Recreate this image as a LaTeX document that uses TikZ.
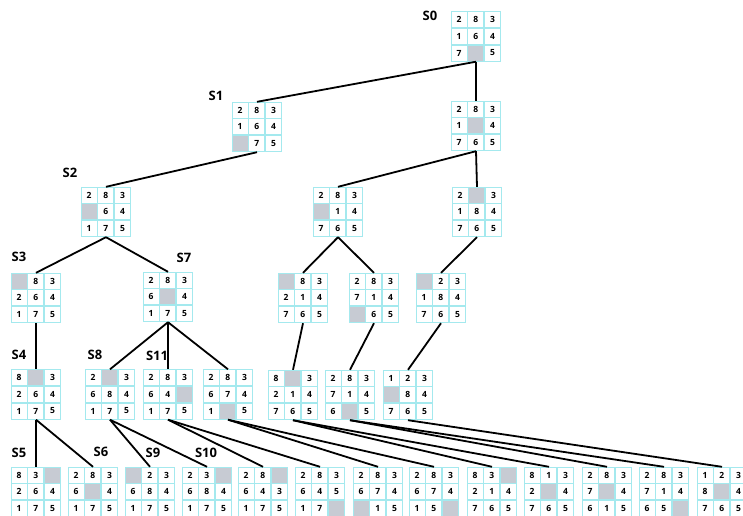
\documentclass[tikz,border=0pt]{standalone}
\usepackage{fontspec}
\setmainfont{Open Sans}
\usepackage{xcolor}
\definecolor{gridcyan}{HTML}{A4E9EE}
\definecolor{holegray}{HTML}{C7CBD3}
\usetikzlibrary{calc}

% one board of the 8-puzzle: name, centre, nine tiles (0 = blank)
\newcommand{\puzzle}[3]{%
  \node[board] (#1) at (#2) {};
  \foreach \tile [count=\idx from 0] in {#3} {
    \pgfmathtruncatemacro{\rowi}{(\idx+0.5)/3}
    \pgfmathtruncatemacro{\coli}{\idx-3*\rowi}
    \ifnum\tile=0 
      \node[cell, fill=holegray] at ($(#1.north west)+(\coli*16.667+8.333,\rowi*16.667+8.333)$) {};
    \else
      \node[cell] at ($(#1.north west)+(\coli*16.667+8.333,\rowi*16.667+8.333)$) {\tile};
    \fi
  }
}

\begin{document}
\begin{tikzpicture}[
            x=1pt, y=-1pt,
            board/.style={rectangle, minimum width=50pt, minimum height=50pt, inner sep=0pt},
            cell/.style={rectangle, draw=gridcyan, fill=white, line width=0.8pt, minimum size=15.9pt, inner sep=0pt, font=\bfseries\fontsize{8.5}{9}\selectfont},
            tag/.style={font=\bfseries\fontsize{13}{13}\selectfont, inner sep=0pt},
            link/.style={line width=1.8pt, black}
        ]
        \useasboundingbox (0,0) rectangle (743,515);

        % --- LEVEL 0 ---
        \puzzle{s0}{476,36.5}{2,8,3,1,6,4,7,0,5}

        % --- LEVEL 1 ---
        \puzzle{s1}{257,127}{2,8,3,1,6,4,0,7,5}
        \puzzle{n1}{476,126}{2,8,3,1,0,4,7,6,5}

        % --- LEVEL 2 ---
        \puzzle{s2}{106,212}{2,8,3,0,6,4,1,7,5}
        \puzzle{n2a}{338,212}{2,8,3,0,1,4,7,6,5}
        \puzzle{n2b}{477,212}{2,0,3,1,8,4,7,6,5}

        % --- LEVEL 3 ---
        \puzzle{s3}{36,298}{0,8,3,2,6,4,1,7,5}
        \puzzle{s7}{168,297}{2,8,3,6,0,4,1,7,5}
        \puzzle{n3a}{303,298}{0,8,3,2,1,4,7,6,5}
        \puzzle{n3b}{374,298}{2,8,3,7,1,4,0,6,5}
        \puzzle{n3c}{441,298}{0,2,3,1,8,4,7,6,5}

        % --- LEVEL 4 ---
        \puzzle{s4}{36,394.5}{8,0,3,2,6,4,1,7,5}
        \puzzle{s8}{110,394.5}{2,0,3,6,8,4,1,7,5}
        \puzzle{s11}{168,394.5}{2,8,3,6,4,0,1,7,5}
        \puzzle{n4}{228,394.5}{2,8,3,6,7,4,1,0,5}
        \puzzle{n4a}{293,395}{8,0,3,2,1,4,7,6,5}
        \puzzle{n4b}{350,395}{2,8,3,7,1,4,6,0,5}
        \puzzle{n4c}{408,395}{1,2,3,0,8,4,7,6,5}

        % --- LEVEL 5 ---
        \puzzle{s5}{36,492}{8,3,0,2,6,4,1,7,5}
        \puzzle{s6}{93,492}{2,8,3,6,0,4,1,7,5}
        \puzzle{s9}{150,492}{0,2,3,6,8,4,1,7,5}
        \puzzle{s10}{207,492}{2,3,0,6,8,4,1,7,5}
        \puzzle{n5a}{263,492}{2,8,0,6,4,3,1,7,5}
        \puzzle{n5b}{320,492}{2,8,3,6,4,5,1,7,0}
        \puzzle{n5c}{378,492}{2,8,3,6,7,4,0,1,5}
        \puzzle{n5d}{434,492}{2,8,3,6,7,4,1,5,0}
        \puzzle{n5e}{492,492}{8,3,0,2,1,4,7,6,5}
        \puzzle{n5f}{549,492}{8,1,3,2,0,4,7,6,5}
        \puzzle{n5g}{607,492}{2,8,3,7,0,4,6,1,5}
        \puzzle{n5h}{664,492}{2,8,3,7,1,4,6,5,0}
        \puzzle{n5i}{722,492}{1,2,3,8,0,4,7,6,5}

        % --- STATE LABELS ---
        \node[tag] (l_s0) at (430,16) {S0};
        \node[tag] (l_s1) at (216,96) {S1};
        \node[tag] (l_s2) at (70,173) {S2};
        \node[tag] (l_s3) at (19,257) {S3};
        \node[tag] (l_s7) at (184,258) {S7};
        \node[tag] (l_s4) at (19,355) {S4};
        \node[tag] (l_s8) at (95,355) {S8};
        \node[tag] (l_s11) at (157,356) {S11};
        \node[tag] (l_s5) at (19,453) {S5};
        \node[tag] (l_s6) at (101,452) {S6};
        \node[tag] (l_s9) at (153,453) {S9};
        \node[tag] (l_s10) at (206,453) {S10};

        % --- TREE EDGES ---
        \draw[link] (s0.south) -- (s1.north);
        \draw[link] (s0.south) -- (n1.north);
        \draw[link] (s1.south) -- (s2.north);
        \draw[link] (n1.south) -- (n2a.north);
        \draw[link] (n1.south) -- (n2b.north);
        \draw[link] (s2.south) -- (s3.north);
        \draw[link] (s2.south) -- (s7.north);
        \draw[link] (n2a.south) -- (n3a.north);
        \draw[link] (n2a.south) -- (n3b.north);
        \draw[link] (n2b.south) -- (n3c.north);
        \draw[link] (s3.south) -- (s4.north);
        \draw[link] (s7.south) -- (s8.north);
        \draw[link] (s7.south) -- (s11.north);
        \draw[link] (s7.south) -- (n4.north);
        \draw[link] (n3a.south) -- (n4a.north);
        \draw[link] (n3b.south) -- (n4b.north);
        \draw[link] (n3c.south) -- (n4c.north);
        \draw[link] (s4.south) -- (s5.north);
        \draw[link] (s4.south) -- (s6.north);
        \draw[link] (s8.south) -- (s9.north);
        \draw[link] (s8.south) -- (s10.north);
        \draw[link] (s11.south) -- (n5a.north);
        \draw[link] (s11.south) -- (n5b.north);
        \draw[link] (n4.south) -- (n5c.north);
        \draw[link] (n4.south) -- (n5d.north);
        \draw[link] (n4a.south) -- (n5e.north);
        \draw[link] (n4a.south) -- (n5f.north);
        \draw[link] (n4b.south) -- (n5g.north);
        \draw[link] (n4b.south) -- (n5h.north);
        \draw[link] (n4c.south) -- (n5i.north);

        \end{tikzpicture}
\end{document}
